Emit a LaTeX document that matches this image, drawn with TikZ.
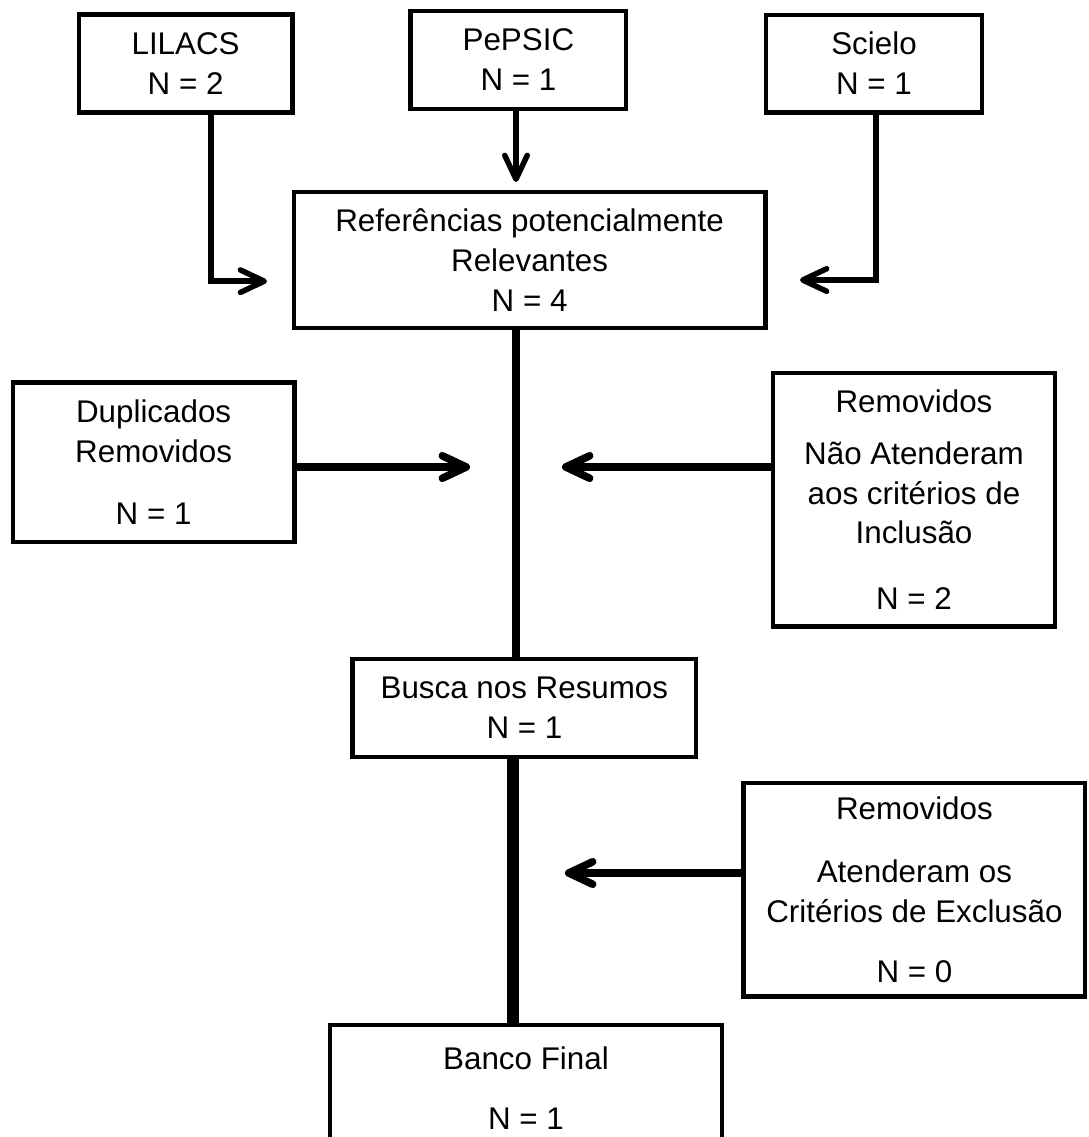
\documentclass[tikz,border=0pt]{standalone}
\usepackage{fontspec}
\setmainfont{Liberation Sans}
\usetikzlibrary{arrows.meta}
\tikzset{
  box/.style={draw, line width=3.3pt, align=center, inner sep=0pt,
    font=\fontsize{22.3}{28.4}\selectfont},
  flow/.style={line width=3.9pt, -{Straight Barb[length=17pt,width=16pt,round]}},
  flowthick/.style={flow, line width=5.4pt},
}
\begin{document}
\begin{tikzpicture}
        \useasboundingbox (0,0) rectangle (27.225,-28.425);

        % bases de dados
        \node[box, minimum width=5.33cm, minimum height=2.45cm] (lilacs) at (4.64,-1.58) {LILACS\\N = 2};
        \node[box, minimum width=5.38cm, minimum height=2.45cm] (pepsic) at (12.96,-1.50) {PePSIC\\N = 1};
        \node[box, minimum width=5.40cm, minimum height=2.43cm] (scielo) at (21.85,-1.59) {Scielo\\N = 1};

        \node[box, minimum width=11.78cm, minimum height=3.40cm] (ref) at (13.24,-6.50) {Refer\^encias potencialmente\\Relevantes\\N = 4};

        % removidos
        \node[box, minimum width=7.03cm, minimum height=3.98cm] (dup) at (3.84,-11.56) {Duplicados\\Removidos\\[15.6pt]N = 1};
        \node[box, minimum width=7.05cm, minimum height=6.33cm] (remA) at (22.85,-12.49) {Removidos\\[8.5pt]Não Atenderam\\aos critérios de\\Inclusão\\[18.4pt]N = 2};

        \node[box, minimum width=8.58cm, minimum height=2.45cm] (busca) at (13.11,-17.70) {Busca nos Resumos\\N = 1};
        \node[box, minimum width=8.53cm, minimum height=5.33cm] (remB) at (22.86,-22.24) {Removidos\\[17pt]Atenderam os\\Critérios de Exclusão\\[14pt]N = 0};

        \node[box, minimum width=9.80cm, minimum height=3.15cm] (banco) at (13.15,-27.20) {Banco Final\\[14pt]N = 1};

        % pontos das setas
        \coordinate (lbend) at (5.275,-7.03);
        \coordinate (ltip) at (6.675,-7.03);
        \coordinate (sbend) at (21.9,-7.0);
        \coordinate (stip) at (20.0,-7.0);
        \coordinate (ptip) at (12.9,-4.55);
        \coordinate (uptrunk) at (12.9,0);
        \coordinate (lowtrunk) at (12.83,0);
        \coordinate (duptip) at (11.75,-11.675);
        \coordinate (remAtip) at (14.05,-11.675);
        \coordinate (remBtip) at (14.125,-21.825);

        \draw[flow] (lilacs.south -| lbend) -- (lbend) -- (ltip);
        \draw[flow] (pepsic.south -| ptip) -- (ptip);
        \draw[flow] (scielo.south -| sbend) -- (sbend) -- (stip);

        \draw[line width=5.3pt] (ref.south -| uptrunk) -- (busca.north -| uptrunk);
        \draw[line width=8.3pt] (busca.south -| lowtrunk) -- (banco.north -| lowtrunk);

        \draw[flowthick] (dup.east |- duptip) -- (duptip);
        \draw[flowthick] (remA.west |- remAtip) -- (remAtip);
        \draw[flowthick] (remB.west |- remBtip) -- (remBtip);
\end{tikzpicture}
\end{document}
